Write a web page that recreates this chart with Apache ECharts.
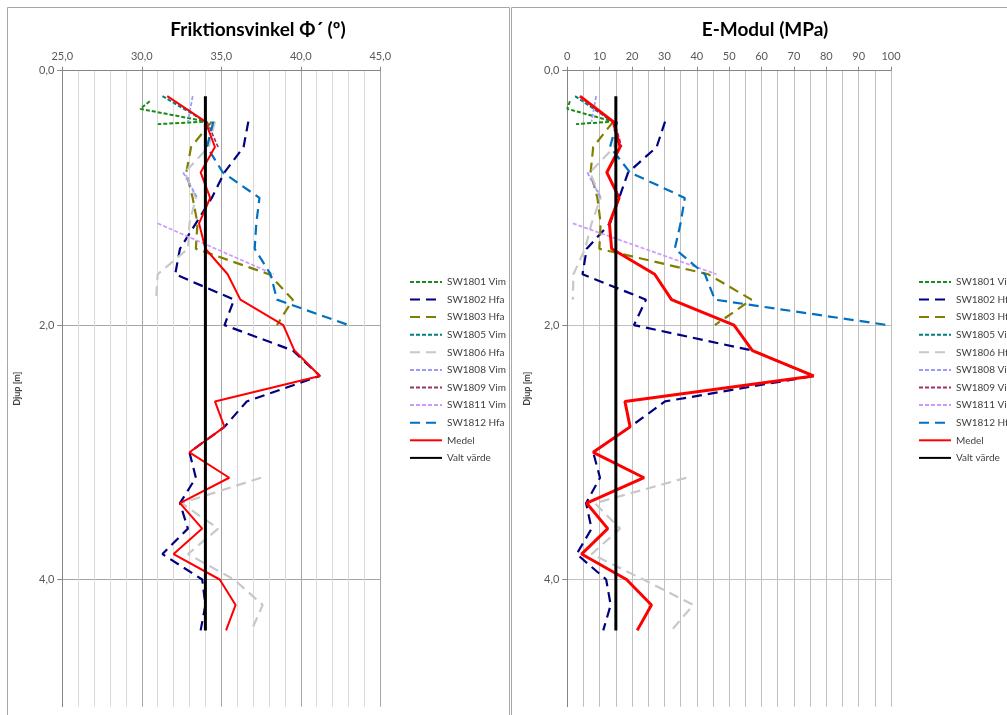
<!DOCTYPE html>
<html><head><meta charset="utf-8">
<script src="https://cdn.jsdelivr.net/npm/echarts@6/dist/echarts.min.js"></script>
<style>html,body{margin:0;padding:0;background:#fff;overflow:hidden}#c{width:1007px;height:715px}</style>
</head><body><div id="c"></div>
<script>
// ---- Data ----
const seriesNames = ['SW1801 Vim','SW1802 Hfa','SW1803 Hfa','SW1805 Vim','SW1806 Hfa','SW1808 Vim','SW1809 Vim','SW1811 Vim','SW1812 Hfa','Medel','Valt värde'];

const depthStd = [0.2,0.4,0.6,0.8,1.0,1.2,1.4,1.6,1.8,2.0,2.2,2.4,2.6,2.8,3.0,3.2,3.4,3.6,3.8,4.0,4.2,4.4];
const depth04to44 = [0.4,0.6,0.8,1.0,1.2,1.4,1.6,1.8,2.0,2.2,2.4,2.6,2.8,3.0,3.2,3.4,3.6,3.8,4.0,4.2,4.4];
const depth04to20 = [0.4,0.6,0.8,1.0,1.2,1.4,1.6,1.8,2.0];
const sw1801Depth = [0.24,0.3,0.4,0.42];
const sw1805Depth = [0.2,0.4];
const sw1808Depth = [0.2,0.4,0.6,0.8,1.0];
const sw1809Depth = [0.4,0.6];
const sw1811Depth = [1.2,1.6];
const valtDepth = [0.2,4.4];

// Friktionsvinkel (deg)
const phiSW1801 = [30.5,29.9,34.1,31.0];
const phiSW1802 = [36.7,36.4,35.2,34.4,33.4,32.4,32.1,35.8,35.2,39.5,41.2,36.6,35.2,33.0,33.4,32.4,32.9,31.3,33.8,34.0,33.7];
const phiSW1803 = [34.4,33.1,32.8,33.2,33.5,33.4,38.0,39.5,38.5];
const phiSW1805 = [31.3,34.0];
const phiSW1806 = [34.6,34.2,32.7,33.4,33.0,32.9,31.0,30.9,null,null,null,null,null,null,37.5,32.5,34.8,32.9,35.8,37.6,36.9];
const phiSW1808 = [33.2,32.9,null,32.6,33.5];
const phiSW1809 = [34.1,34.8];
const phiSW1811 = [31.0,38.3];
const phiSW1812 = [34.5,34.1,35.1,37.4,37.2,37.1,38.1,38.5,43.0];
const phiMedel  = [31.6,34.0,34.6,33.7,34.3,33.6,34.0,35.4,36.2,38.9,39.6,41.2,34.6,35.2,33.0,35.5,32.4,33.8,32.0,34.9,35.9,35.3];
const phiValt   = [34.0,34.0];

// E-Modul (MPa)
const eSW1801 = [0.8,0.0,14.2,2.7];
const eSW1802 = [30.2,27.6,18.8,16.0,13.2,6.0,4.7,24.3,20.6,57.2,76.0,30.2,19.4,8.0,10.1,5.8,7.5,2.9,12.0,13.4,11.1];
const eSW1803 = [14.2,8.0,7.2,9.3,10.3,9.9,43.5,56.9,45.6];
const eSW1805 = [2.4,14.0];
const eSW1806 = [15.0,14.5,7.0,10.3,7.5,5.5,1.9,1.7,null,null,null,null,null,null,36.8,8.5,16.3,7.5,23.5,38.9,32.2];
const eSW1808 = [8.9,7.5,null,6.2,10.3];
const eSW1809 = [14.5,16.8];
const eSW1811 = [1.7,46.1];
const eSW1812 = [15.4,13.2,19.4,36.3,35.0,33.2,42.5,45.6,99.0];
const eMedel  = [3.9,14.2,16.3,12.2,16.0,13.0,13.7,27.0,32.2,51.5,57.2,76.1,17.8,19.4,8.0,23.7,6.0,12.5,4.4,18.3,26.0,21.6];
const eValt   = [15.0,15.0];

const depthLabelValues = [0,2,4];

// ---- Build ----
const pair = (vals, depths) => vals.map((v,i) => [v === null ? '-' : v, depths[i]]);

const leftData = {
  'SW1801 Vim': pair(phiSW1801, sw1801Depth),
  'SW1802 Hfa': pair(phiSW1802, depth04to44),
  'SW1803 Hfa': pair(phiSW1803, depth04to20),
  'SW1805 Vim': pair(phiSW1805, sw1805Depth),
  'SW1806 Hfa': pair(phiSW1806, depth04to44),
  'SW1808 Vim': pair(phiSW1808, sw1808Depth),
  'SW1809 Vim': pair(phiSW1809, sw1809Depth),
  'SW1811 Vim': pair(phiSW1811, sw1811Depth),
  'SW1812 Hfa': pair(phiSW1812, depth04to20),
  'Medel': pair(phiMedel, depthStd),
  'Valt värde': pair(phiValt, valtDepth)
};
const rightData = {
  'SW1801 Vim': pair(eSW1801, sw1801Depth),
  'SW1802 Hfa': pair(eSW1802, depth04to44),
  'SW1803 Hfa': pair(eSW1803, depth04to20),
  'SW1805 Vim': pair(eSW1805, sw1805Depth),
  'SW1806 Hfa': pair(eSW1806, depth04to44),
  'SW1808 Vim': pair(eSW1808, sw1808Depth),
  'SW1809 Vim': pair(eSW1809, sw1809Depth),
  'SW1811 Vim': pair(eSW1811, sw1811Depth),
  'SW1812 Hfa': pair(eSW1812, depth04to20),
  'Medel': pair(eMedel, depthStd),
  'Valt värde': pair(eValt, valtDepth)
};

const styles = {
  'SW1801 Vim': {color:'#1a8a1a', type:[4,2], width:2},
  'SW1802 Hfa': {color:'#000080', type:[10,6], width:2.2},
  'SW1803 Hfa': {color:'#808000', type:[10,6], width:2.2},
  'SW1805 Vim': {color:'#008080', type:[4,2], width:2},
  'SW1806 Hfa': {color:'#c8c8c8', type:[10,6], width:2.2},
  'SW1808 Vim': {color:'#9999ff', type:[4,2], width:1.7},
  'SW1809 Vim': {color:'#993366', type:[4,2], width:1.7},
  'SW1811 Vim': {color:'#cc99ff', type:[4,2], width:1.7},
  'SW1812 Hfa': {color:'#0070c0', type:[10,6], width:2.2},
  'Medel': {color:'#ff0000', type:'solid', width:2},
  'Valt värde': {color:'#000000', type:'solid', width:3}
};
const rightWidth = {'Medel':3};

const FONT = 'Lato, "Open Sans", "Liberation Sans", sans-serif';
const fmt1 = v => v.toFixed(1).replace('.', ',');

const series = [];
seriesNames.forEach(n => {
  [0,1].forEach(g => {
    const st = styles[n];
    series.push({
      name: n, type:'line', xAxisIndex:g, yAxisIndex:g,
      data: g === 0 ? leftData[n] : rightData[n],
      symbol:'none', showSymbol:false, connectNulls:false, animation:false,
      lineStyle:{color:st.color, type:st.type, width: (g===1 && rightWidth[n]) ? rightWidth[n] : st.width, cap:'butt'},
      itemStyle:{color:st.color},
      emphasis:{disabled:true}
    });
  });
});

const axisCol = '#868686';
const mkX = (g, min, max, interval, minorSplit, majorCol, minorCol, formatter) => ({
  gridIndex:g, type:'value', position:'top', min, max, interval,
  axisLine:{show:true, onZero:false, lineStyle:{color:axisCol}},
  axisTick:{show:true, length:4, lineStyle:{color:axisCol}},
  axisLabel:{color:'#595959', fontSize:11, fontFamily:FONT, margin:9, formatter},
  splitLine:{show:true, lineStyle:{color:majorCol, width:1}},
  minorTick:{show:false, splitNumber:minorSplit},
  minorSplitLine:{show:true, lineStyle:{color:minorCol, width:1}}
});
const mkY = (g, interval, gap, splitCol) => ({
  gridIndex:g, type:'value', inverse:true, min:0, max:5, interval,
  name:'Djup [m]', nameLocation:'middle', nameGap:gap, nameRotate:90,
  nameTextStyle:{fontWeight:'bold', fontSize:9, color:'#404040', fontFamily:FONT},
  axisLine:{show:true, onZero:false, lineStyle:{color:axisCol}},
  axisTick:{show:true, length:5, customValues:depthLabelValues, lineStyle:{color:axisCol}},
  axisLabel:{customValues:depthLabelValues, color:'#595959', fontSize:11, fontFamily:FONT, margin:8, formatter:fmt1},
  splitLine:{show:true, lineStyle:{color:splitCol, width:1}}
});

const legendBase = {
  orient:'vertical', data:seriesNames, itemWidth:32, itemHeight:14, itemGap:6.4,
  textStyle:{fontSize:10, color:'#404040', fontFamily:FONT},
  itemStyle:{color:'rgba(0,0,0,0)', borderColor:'rgba(0,0,0,0)', borderWidth:0, opacity:0},
  selectedMode:false
};

const option = {
  backgroundColor:'#ffffff',
  animation:false,
  grid:[
    {left:62.3, top:70.7, width:318, height:636},
    {left:567.3, top:70.7, width:323.7, height:636}
  ],
  xAxis:[
    mkX(0, 25, 45, 5, 5, '#a6a6a6', '#d9d9d9', fmt1),
    mkX(1, 0, 100, 10, 2, '#bfbfbf', '#bfbfbf', v => String(v))
  ],
  yAxis:[
    mkY(0, 1, 41, '#a6a6a6'),
    mkY(1, 0.4, 36, '#bfbfbf')
  ],
  legend:[
    Object.assign({}, legendBase, {left:404, top:271.3}),
    Object.assign({}, legendBase, {left:913, top:271.3})
  ],
  graphic:[
    {type:'rect', silent:true, shape:{x:7.5, y:7.5, width:502, height:720}, style:{fill:'none', stroke:'#a6a6a6', lineWidth:1}},
    {type:'rect', silent:true, shape:{x:511.5, y:7.5, width:505, height:720}, style:{fill:'none', stroke:'#a6a6a6', lineWidth:1}},
    {type:'text', silent:true, style:{text:'Friktionsvinkel Φ´ (º)', x:258, y:30, textAlign:'center', textVerticalAlign:'middle', font:'bold 19px ' + FONT, fill:'#000000'}},
    {type:'text', silent:true, style:{text:'E-Modul (MPa)', x:765, y:30, textAlign:'center', textVerticalAlign:'middle', font:'bold 19px ' + FONT, fill:'#000000'}}
  ],
  series
};

const chart = echarts.init(document.getElementById('c'), null, {renderer:'canvas'});
chart.setOption(option);
</script></body></html>
